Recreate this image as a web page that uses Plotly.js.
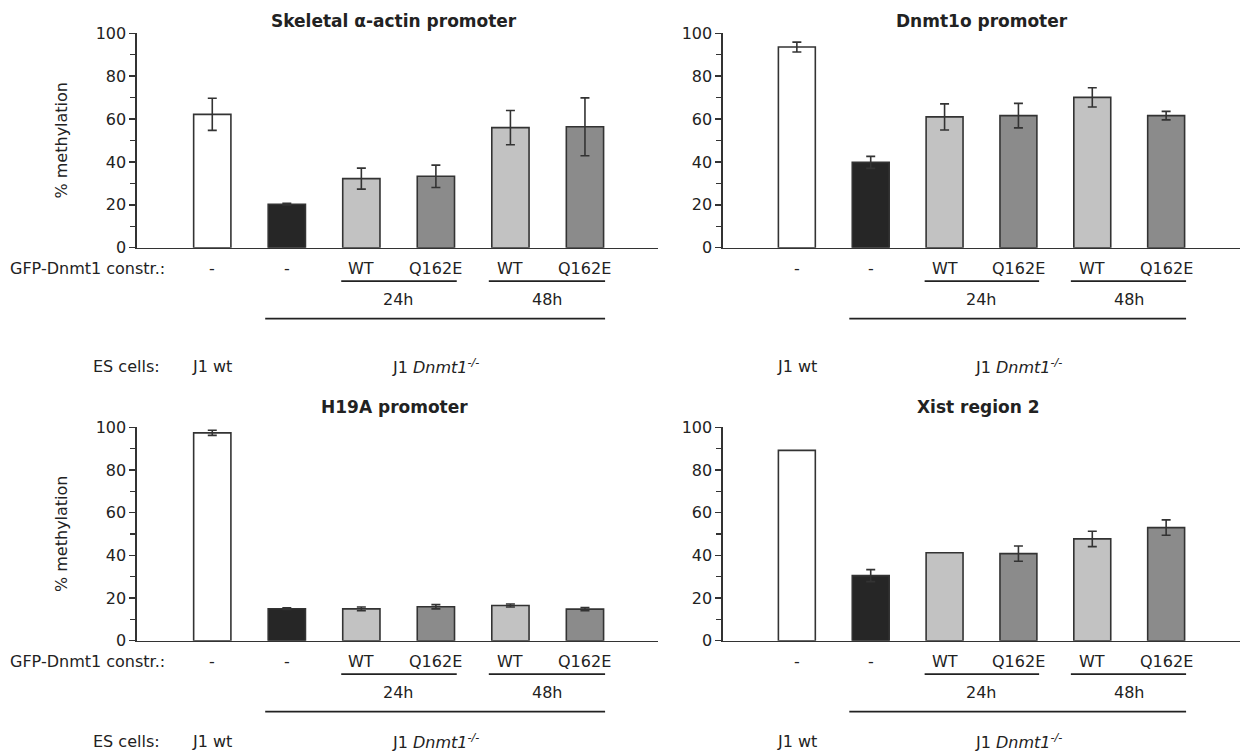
<!DOCTYPE html>
<html><head><meta charset="utf-8">
<script src="https://cdn.plot.ly/plotly-3.0.1.min.js"></script>
<style>html,body{margin:0;padding:0;background:#fff}#chart{width:1241px;height:751px}</style>
</head><body><div id="chart"></div><script>
// ---- data ----
const categories = ['J1 wt', 'Dnmt1 -/-', 'WT 24h', 'Q162E 24h', 'WT 48h', 'Q162E 48h'];
const constructLabels = ['-', '-', 'WT', 'Q162E', 'WT', 'Q162E'];
const hourLabels = ['24h', '48h'];
const yTickValues = [0, 20, 40, 60, 80, 100];
const yTickLabels = ['0', '20', '40', '60', '80', '100'];

const actinValues  = [62.2, 20.3, 32.2, 33.3, 56.0, 56.4];
const actinErrors  = [7.5, 0.4, 4.9, 5.2, 8.0, 13.5];
const dnmt1oValues = [93.6, 39.8, 61.0, 61.6, 70.1, 61.6];
const dnmt1oErrors = [2.3, 2.8, 6.1, 5.7, 4.5, 2.0];
const h19Values    = [97.4, 15.0, 14.9, 15.9, 16.5, 14.8];
const h19Errors    = [1.2, 0.4, 0.9, 1.0, 0.7, 0.7];
const xistValues   = [89.2, 30.5, 41.2, 40.8, 47.7, 53.0];
const xistErrors   = [NaN, 2.8, NaN, 3.6, 3.6, 3.6];

const barColors = ['#ffffff', '#262626', '#c2c2c2', '#8b8b8b', '#c2c2c2', '#8b8b8b'];

// ---- layout helpers ----
const W = 1241, H = 751;
const px = x => x / W;
const py = y => 1 - y / H;
const FONT = 'DejaVu Sans, Liberation Sans, Arial, sans-serif';
const INK = '#222';
const LINE = '#333';

const panels = [
  {title: 'Skeletal \u03b1-actin promoter', values: actinValues, errors: actinErrors,
   xd: [137, 658], yd: [33.3, 247.7], xr: [-1.01, 5.98], left: true, titleX: 394, titleY: 21, esOff: 119},
  {title: 'Dnmt1o promoter', values: dnmt1oValues, errors: dnmt1oErrors,
   xd: [723, 1240], yd: [33.3, 247.7], xr: [-1, 6], left: false, titleX: 982, titleY: 21, esOff: 119},
  {title: 'H19A promoter', values: h19Values, errors: h19Errors,
   xd: [137, 658], yd: [427.3, 640.7], xr: [-1.01, 5.98], left: true, titleX: 394, titleY: 407, esOff: 101},
  {title: 'Xist region 2', values: xistValues, errors: xistErrors,
   xd: [723, 1240], yd: [427.3, 640.7], xr: [-1, 6], left: false, titleX: 978, titleY: 407, esOff: 101}
];

const data = [];
const layout = {
  width: W, height: H, autosize: false,
  margin: {l: 0, r: 0, t: 0, b: 0, pad: 0},
  paper_bgcolor: '#fff', plot_bgcolor: 'rgba(0,0,0,0)',
  showlegend: false, bargap: 0,
  font: {family: FONT, size: 16, color: INK},
  annotations: [], shapes: []
};

function txt(text, x, y, xref, opts) {
  return Object.assign({
    text: text, x: x, y: y, xref: xref, yref: 'paper',
    xanchor: 'center', yanchor: 'middle', showarrow: false,
    font: {family: FONT, size: 16, color: INK}
  }, opts || {});
}
function hline(x0, x1, yPix, xref) {
  return {type: 'line', xref: xref, yref: 'paper', x0: x0, x1: x1, y0: py(yPix), y1: py(yPix),
          line: {color: INK, width: 1.8}};
}

panels.forEach((p, i) => {
  const s = i === 0 ? '' : String(i + 1);
  const xa = 'x' + s, ya = 'y' + s;
  data.push({
    type: 'bar', x: categories, y: p.values, xaxis: xa, yaxis: ya, width: 0.5,
    marker: {color: barColors, line: {color: LINE, width: 1.6}},
    error_y: {type: 'data', array: p.errors, visible: true, color: LINE, thickness: 1.6, width: 4.5},
    hoverinfo: 'none', showlegend: false
  });
  layout['xaxis' + s] = {
    domain: [px(p.xd[0]), px(p.xd[1])], range: p.xr, type: 'category',
    categoryorder: 'array', categoryarray: categories,
    showline: true, linecolor: LINE, linewidth: 1.6, showgrid: false, zeroline: false,
    showticklabels: false, ticks: '', anchor: ya, fixedrange: true
  };
  layout['yaxis' + s] = {
    domain: [py(p.yd[1]), py(p.yd[0])], range: [0, 100],
    tickmode: 'array', tickvals: yTickValues, ticktext: yTickLabels,
    ticks: 'outside', ticklen: 6, tickwidth: 1.5, tickcolor: LINE,
    minor: {tickmode: 'linear', tick0: 0, dtick: 10, ticks: 'outside', ticklen: 5, tickwidth: 1.5, tickcolor: LINE, showgrid: false},
    showline: true, linecolor: LINE, linewidth: 1.6, showgrid: false, zeroline: false,
    tickfont: {family: FONT, size: 16, color: INK}, anchor: xa, fixedrange: true
  };

  const base = p.yd[1];
  layout.annotations.push(txt('<b>' + p.title + '</b>', px(p.titleX), py(p.titleY), 'paper',
    {font: {family: FONT, size: 17, color: INK}}));
  if (p.left) {
    layout.annotations.push(txt('% methylation', px(61), py((p.yd[0] + p.yd[1]) / 2), 'paper',
      {textangle: -90, font: {family: FONT, size: 16, color: INK}}));
    layout.annotations.push(txt('GFP-Dnmt1 constr.:', px(8), py(base + 21), 'paper', {xanchor: 'left'}));
    layout.annotations.push(txt('ES cells:', px(162), py(base + p.esOff), 'paper', {xanchor: 'right'}));
  }
  constructLabels.forEach((lab, k) => {
    layout.annotations.push(txt(lab, k, py(base + 21), xa));
  });
  layout.shapes.push(hline(1.73, 3.28, base + 33.5, xa));
  layout.shapes.push(hline(3.71, 5.27, base + 33.5, xa));
  layout.annotations.push(txt(hourLabels[0], 2.5, py(base + 52), xa));
  layout.annotations.push(txt(hourLabels[1], 4.5, py(base + 52), xa));
  layout.shapes.push(hline(0.71, 5.27, base + 71, xa));
  layout.annotations.push(txt('J1 wt', 0, py(base + p.esOff), xa));
  layout.annotations.push(txt('J1 <i>Dnmt1</i><sup><i>-/-</i></sup>', 3, py(base + p.esOff), xa));
});

Plotly.newPlot('chart', data, layout, {staticPlot: true, displayModeBar: false});
</script></body></html>
